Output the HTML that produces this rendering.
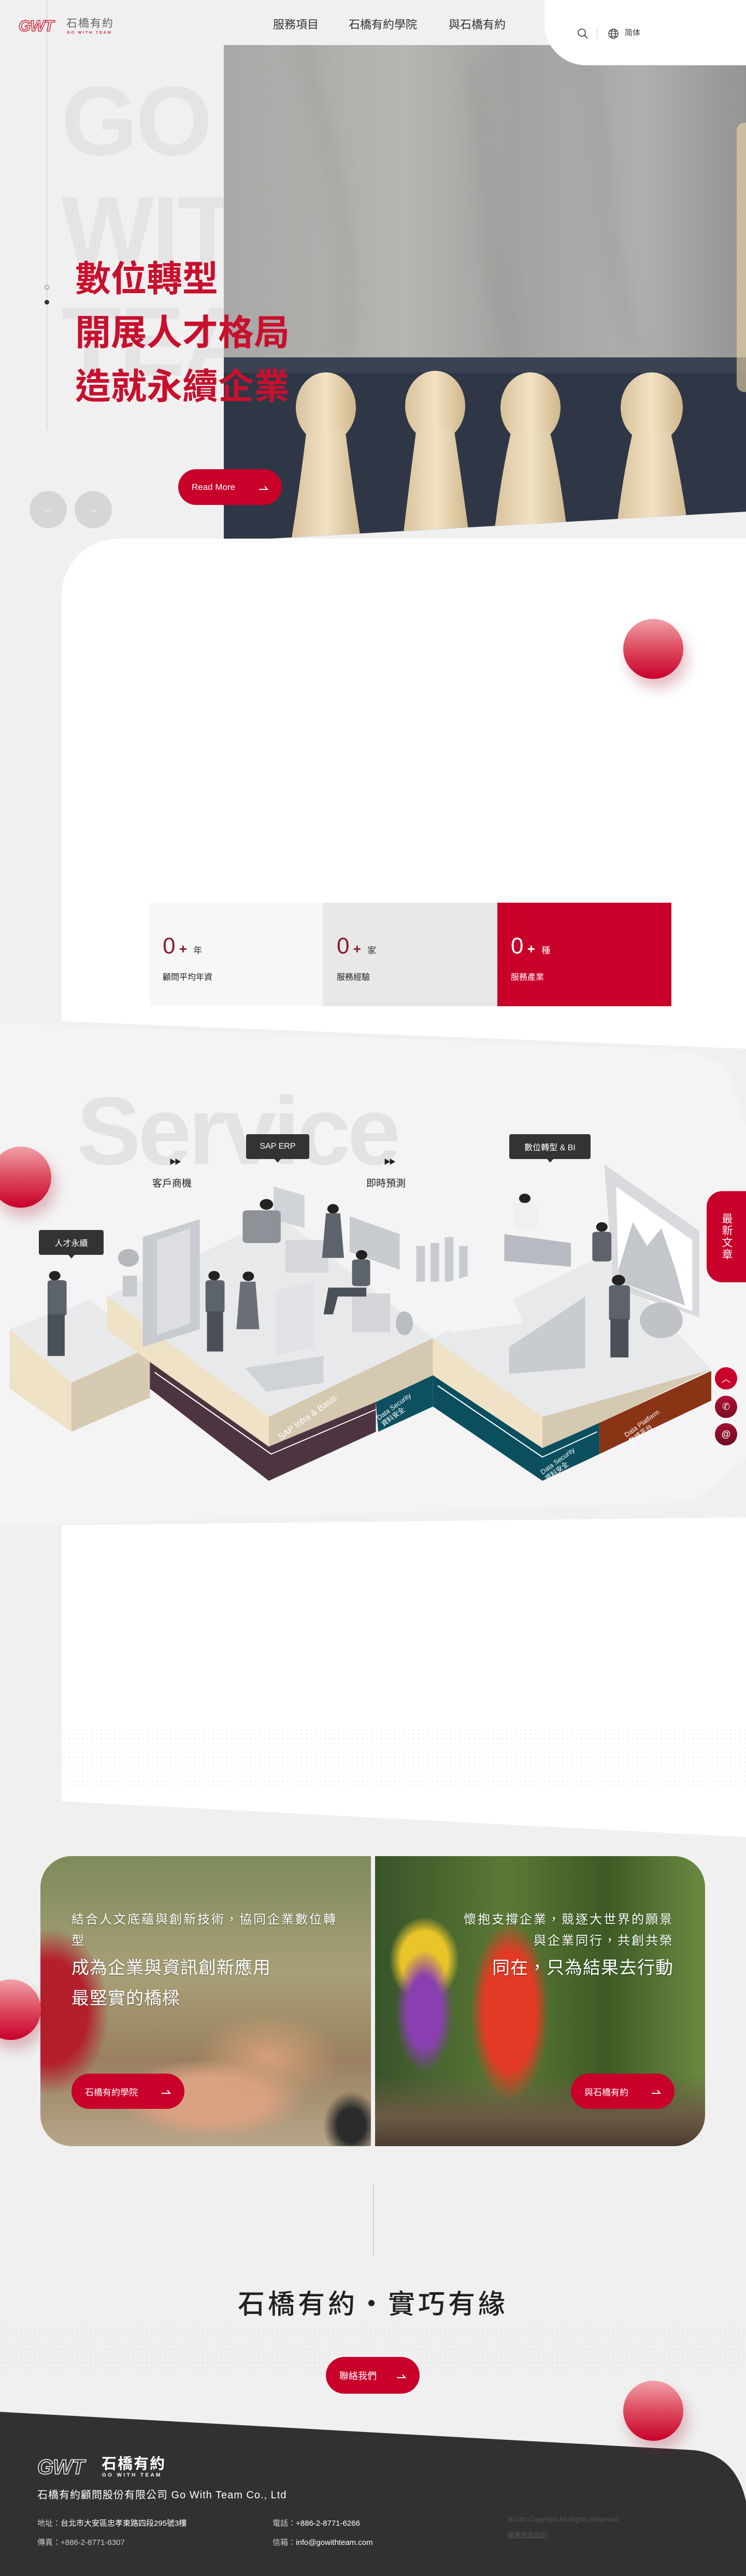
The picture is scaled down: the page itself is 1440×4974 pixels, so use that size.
<!DOCTYPE html>
<html lang="zh-Hant"><head><meta charset="utf-8">
<style>
*{margin:0;padding:0;box-sizing:border-box}
html,body{width:1440px;height:4974px;overflow:hidden}
body{position:relative;background:#f0f0f0;font-family:"Liberation Sans","Noto Sans CJK TC",sans-serif;color:#333}
.a{position:absolute}
.btn{position:absolute;background:#c8002a;color:#fff;border-radius:36px;font-size:17px;display:flex;align-items:center;padding-left:26px}
.btn svg{position:absolute;right:26px;top:50%;margin-top:-6px}
.lbl{position:absolute;background:#333;color:#fff;font-size:16px;border-radius:4px;display:flex;align-items:center;justify-content:center;height:48px}
.lbl:after{content:"";position:absolute;left:50%;bottom:-7px;margin-left:-6px;border:6px solid transparent;border-bottom:0;border-top:7px solid #333}
.ball{position:absolute;border-radius:50%;background:linear-gradient(#f2a0a8,#dc4a5e 50%,#c8002a);box-shadow:8px 18px 26px rgba(160,20,40,.28)}
.dots{position:absolute;background-image:radial-gradient(circle,#e2e2e2 1.6px,transparent 2px);background-size:9px 9px;opacity:.8}
</style></head><body>

<div class="a" style="left:90px;top:0;width:1px;height:830px;background:#c8c8c8"></div>
<div class="a" style="left:86px;top:550px;width:9px;height:9px;border:1px solid #777;border-radius:50%"></div>
<div class="a" style="left:86px;top:579px;width:9px;height:9px;background:#333;border-radius:50%"></div>
<div class="a" style="left:118px;top:128px;font:bold 190px/213px 'Liberation Sans',sans-serif;color:#e4e4e4;letter-spacing:-4px">GO<br>WITH<br>TEAM</div>

<div class="a" style="left:432px;top:87px;width:1008px;height:958px;clip-path:polygon(0 0,100% 0,100% 901px,0 100%);overflow:hidden">
<svg width="1008" height="958" viewBox="0 0 1008 958">
<defs>
<linearGradient id="sh" x1="0" y1="0" x2="1" y2="0"><stop offset="0" stop-color="#a8a8a6"/><stop offset=".35" stop-color="#b5b5b2"/><stop offset=".55" stop-color="#a2a2a0"/><stop offset=".8" stop-color="#afafad"/><stop offset="1" stop-color="#949492"/></linearGradient>
<radialGradient id="gl" cx="1" cy=".5" r=".5"><stop offset="0" stop-color="#ffcf6a"/><stop offset=".4" stop-color="#e8a050" stop-opacity=".7"/><stop offset="1" stop-color="#e8a050" stop-opacity="0"/></radialGradient>
<linearGradient id="pw" x1="0" y1="0" x2="1" y2="0"><stop offset="0" stop-color="#d9c29b"/><stop offset=".5" stop-color="#f1e2c3"/><stop offset="1" stop-color="#cfb68c"/></linearGradient>
<filter id="bl"><feGaussianBlur stdDeviation="18"/></filter>
</defs>
<rect width="1008" height="958" fill="url(#sh)"/>
<path d="M150 0 C200 200 260 400 230 600 M480 40 C520 200 500 420 560 600 M700 0 C740 200 720 400 800 600" stroke="#8a8a88" stroke-width="24" fill="none" opacity=".3" filter="url(#bl)"/>
<rect x="0" y="603" width="1008" height="355" fill="#2f3747"/>
<rect x="0" y="603" width="1008" height="30" fill="#3b4252"/>
<ellipse cx="1008" cy="420" rx="140" ry="330" fill="url(#gl)"/>
<rect x="990" y="150" width="30" height="520" rx="15" fill="#f1d7a6" opacity=".6"/>
<g fill="url(#pw)">
<ellipse cx="197" cy="700" rx="58" ry="68"/><path d="M160 740 Q150 830 130 958 L265 958 Q245 830 234 740Z"/>
<ellipse cx="408" cy="697" rx="58" ry="68"/><path d="M372 740 Q360 830 345 958 L475 958 Q458 830 444 740Z"/>
<ellipse cx="592" cy="700" rx="58" ry="68"/><path d="M555 745 Q535 830 520 958 L665 958 Q650 830 629 745Z"/>
<ellipse cx="826" cy="700" rx="60" ry="68"/><path d="M790 745 Q770 830 755 958 L900 958 Q882 830 862 745Z"/>
</g>
</svg></div>

<div class="a" style="left:1051px;top:0;width:389px;height:126px;background:#fff;border-bottom-left-radius:80px"></div>
<div class="a" style="left:36px;top:34px;font:bold 30px/34px 'Liberation Sans',sans-serif;color:transparent;-webkit-text-stroke:1.5px #d0213a;letter-spacing:-1px;font-style:italic">GWT</div>
<div class="a" style="left:128px;top:35px;font-size:21px;line-height:22px;color:#666;letter-spacing:2px">石橋有約</div>
<div class="a" style="left:129px;top:59px;font:bold 7.5px/8px 'Liberation Sans',sans-serif;color:#d0213a;letter-spacing:2.6px">GO WITH TEAM</div>
<div class="a" style="left:527px;top:34px;font-size:22px;line-height:28px;color:#333">服務項目</div>
<div class="a" style="left:673px;top:34px;font-size:22px;line-height:28px;color:#333">石橋有約學院</div>
<div class="a" style="left:866px;top:34px;font-size:22px;line-height:28px;color:#333">與石橋有約</div>
<svg class="a" style="left:1114px;top:54px" width="22" height="22" viewBox="0 0 22 22"><circle cx="9" cy="9" r="7" fill="none" stroke="#333" stroke-width="1.6"/><line x1="14" y1="14" x2="20" y2="20" stroke="#333" stroke-width="1.6"/></svg>
<div class="a" style="left:1152px;top:52px;width:1px;height:24px;background:#ccc"></div>
<svg class="a" style="left:1173px;top:54px" width="22" height="22" viewBox="0 0 22 22" fill="none" stroke="#333" stroke-width="1.3"><circle cx="11" cy="11" r="9"/><ellipse cx="11" cy="11" rx="4" ry="9"/><line x1="2" y1="11" x2="20" y2="11"/><line x1="4" y1="6" x2="18" y2="6"/><line x1="4" y1="16" x2="18" y2="16"/></svg>
<div class="a" style="left:1206px;top:55px;font-size:15px;line-height:18px;color:#333">简体</div>

<div class="a" style="left:145px;top:487px;font-size:69px;line-height:104px;font-weight:bold;color:#c8102e;white-space:nowrap">數位轉型<br>開展人才格局<br>造就永續企業</div>
<div class="btn" style="left:344px;top:906px;width:200px;height:69px">Read More<svg width="18" height="12" viewBox="0 0 18 12"><path d="M0 10 H16 L11 4" fill="none" stroke="#fff" stroke-width="2"/></svg></div>
<div class="a" style="left:57px;top:948px;width:72px;height:72px;border-radius:50%;background:#d6d6d6;color:#f4f4f4;font-size:20px;display:flex;align-items:center;justify-content:center">←</div>
<div class="a" style="left:144px;top:948px;width:72px;height:72px;border-radius:50%;background:#d6d6d6;color:#f4f4f4;font-size:20px;display:flex;align-items:center;justify-content:center">→</div>

<div class="a" style="left:119px;top:1040px;width:1321px;height:990px;background:#fff;border-top-left-radius:110px;clip-path:polygon(0 0,100% 0,100% 985px,0 932px)"></div>
<div class="a" style="left:0;top:1975px;width:1440px;height:975px;background:#f4f4f4;clip-path:polygon(0 0,1320px 52px,1400px 80px,1440px 200px,1440px 840px,1340px 925px,119px 968px,0 968px)"></div>
<div class="ball" style="left:1203px;top:1195px;width:116px;height:116px"></div>

<div class="a" style="left:288px;top:1743px;width:335px;height:200px;background:#f7f7f7"></div>
<div class="a" style="left:623px;top:1743px;width:337px;height:200px;background:#e8e8e8"></div>
<div class="a" style="left:960px;top:1743px;width:336px;height:200px;background:#c8002a"></div>
<div class="a" style="left:314px;top:1802px;color:#8b1a2b;font-size:44px;line-height:50px;white-space:nowrap">0<span style="font-size:26px;font-weight:bold"> +</span> <span style="font-size:17px;color:#333">年</span></div>
<div class="a" style="left:314px;top:1873px;font-size:16px;color:#222">顧問平均年資</div>
<div class="a" style="left:650px;top:1802px;color:#8b1a2b;font-size:44px;line-height:50px;white-space:nowrap">0<span style="font-size:26px;font-weight:bold"> +</span> <span style="font-size:17px;color:#333">家</span></div>
<div class="a" style="left:650px;top:1873px;font-size:16px;color:#222">服務經驗</div>
<div class="a" style="left:986px;top:1802px;color:#fff;font-size:44px;line-height:50px;white-space:nowrap">0<span style="font-size:26px;font-weight:bold"> +</span> <span style="font-size:17px">種</span></div>
<div class="a" style="left:986px;top:1873px;font-size:16px;color:#fff">服務產業</div>

<div class="a" style="left:148px;top:2085px;font:bold 186px/200px 'Liberation Sans',sans-serif;color:#e3e3e3;letter-spacing:-6px">Service</div>
<div class="ball" style="left:-19px;top:2214px;width:118px;height:118px"></div>

<svg class="a" style="left:0;top:2050px" width="1440" height="900" viewBox="0 0 1568 1568" preserveAspectRatio="none">
<polygon points="20,900 190,800 315,960 150,1080" fill="#e9eaec"/>
<polygon points="20,900 150,1080 150,1245 20,1100" fill="#efe2c6"/>
<polygon points="150,1080 315,960 315,1130 150,1245" fill="#d6cab2"/>
<polygon points="225,790 590,520 910,930 565,1195" fill="#e8e9eb"/>
<polygon points="225,790 565,1195 565,1295 315,1010 225,900" fill="#efe2c6"/>
<polygon points="565,1195 910,930 910,1055 790,1145 565,1295" fill="#d5c9b1"/>
<polygon points="315,1010 565,1295 790,1145 790,1245 565,1410 315,1100" fill="#4d3441"/>
<polyline points="325,1045 570,1320 790,1170" fill="none" stroke="#fff" stroke-width="3"/>
<polygon points="790,1145 910,1055 910,1160 795,1245" fill="#0d5060"/>
<polygon points="910,930 1270,650 1495,1035 1140,1195" fill="#e8e9eb"/>
<polygon points="910,930 1140,1195 1140,1300 910,1055" fill="#efe2c6"/>
<polygon points="1140,1195 1495,1035 1260,1215 1140,1300" fill="#d5c9b1"/>
<polygon points="910,1055 1140,1300 1260,1215 1260,1320 1140,1410 910,1160" fill="#0b4f5f"/>
<polyline points="920,1090 1140,1330 1255,1245" fill="none" stroke="#fff" stroke-width="3"/>
<polygon points="1260,1215 1495,1040 1495,1140 1260,1320" fill="#8a3416"/>
<g fill="#c8cbd0">
<polygon points="300,590 420,530 420,900 300,960"/><polygon points="330,600 400,560 400,880 330,920" fill="#dcdee2"/>
<polygon points="735,520 840,580 840,700 735,640"/>
<polygon points="575,420 640,450 640,560 575,530" fill="#d0d3d8"/>
<rect x="600" y="600" width="90" height="110" fill="#d5d7db"/>
<polygon points="580,770 660,740 660,960 580,990" fill="#e1e3e6"/>
<polygon points="515,1030 680,990 680,1080 560,1110" fill="#cfd2d6"/>
<rect x="740" y="780" width="80" height="130" fill="#d3d5d9"/>
<polygon points="1270,345 1470,570 1470,860 1290,760" fill="#d8dadd"/>
<polygon points="1295,420 1455,600 1455,840 1300,740" fill="#fff"/>
<polygon points="1300,700 1330,540 1360,620 1390,560 1420,700 1440,820 1300,740" fill="#c3c6cb"/>
<rect x="875" y="620" width="18" height="120"/><rect x="905" y="610" width="18" height="130"/><rect x="935" y="590" width="18" height="150"/><rect x="965" y="620" width="18" height="120"/>
<polygon points="880,770 1050,690 1100,880 950,910" fill="#f3f4f5"/>
<polygon points="1070,960 1230,790 1230,1030 1070,1050"/>
<polygon points="1060,580 1200,610 1200,690 1060,670" fill="#b7bbc1"/>
<ellipse cx="1390" cy="870" rx="45" ry="60" fill="#bfc2c7"/>
<ellipse cx="270" cy="660" rx="22" ry="30" fill="#b5b9be"/><rect x="258" y="720" width="30" height="70" fill="#c6c9ce"/>
<ellipse cx="850" cy="880" rx="18" ry="40" fill="#b9bdc2"/>
</g>
<g fill="#5d636b">
<ellipse cx="115" cy="720" rx="12" ry="16" fill="#222"/><rect x="100" y="735" width="40" height="120" rx="8"/><rect x="100" y="850" width="36" height="140" fill="#4a5058"/>
<ellipse cx="450" cy="720" rx="12" ry="16" fill="#222"/><rect x="432" y="735" width="40" height="110" rx="8"/><rect x="435" y="840" width="34" height="135" fill="#4a5058"/>
<ellipse cx="522" cy="722" rx="12" ry="16" fill="#222"/><path d="M505 740 h32 l8 160 h-48z" fill="#6b7078"/>
<ellipse cx="700" cy="495" rx="12" ry="16" fill="#222"/><path d="M685 510 h30 l8 150 h-46z"/>
<ellipse cx="760" cy="650" rx="12" ry="16" fill="#222"/><rect x="740" y="665" width="38" height="90" rx="8"/><path d="M690 760 h80 v30 h-60 l-10 60 h-20z" fill="#4a5058"/>
<ellipse cx="560" cy="480" rx="14" ry="18" fill="#222"/><rect x="510" y="500" width="80" height="110" rx="10" fill="#8e9298"/>
<ellipse cx="1103" cy="460" rx="12" ry="16" fill="#222"/><rect x="1080" y="475" width="50" height="90" rx="8" fill="#f0f0f0"/>
<ellipse cx="1265" cy="556" rx="12" ry="16" fill="#222"/><rect x="1245" y="572" width="40" height="100" rx="8"/>
<ellipse cx="1300" cy="735" rx="14" ry="18" fill="#222"/><rect x="1280" y="752" width="44" height="120" rx="8"/><rect x="1283" y="865" width="38" height="130" fill="#4a5058"/>
</g>
</svg>

<div class="lbl" style="left:475px;top:2190px;width:122px">SAP ERP</div>
<div class="lbl" style="left:983px;top:2190px;width:157px">數位轉型 &amp; BI</div>
<div class="lbl" style="left:75px;top:2375px;width:125px">人才永續</div>
<div class="a" style="left:327px;top:2233px;font-size:13px;color:#222;letter-spacing:-3px">▶▶</div>
<div class="a" style="left:741px;top:2233px;font-size:13px;color:#222;letter-spacing:-3px">▶▶</div>
<div class="a" style="left:294px;top:2270px;font-size:19px;color:#222">客戶商機</div>
<div class="a" style="left:707px;top:2270px;font-size:19px;color:#222">即時預測</div>
<div class="a" style="left:545px;top:2765px;font-size:17px;color:#fff;transform:rotate(-36deg);transform-origin:left bottom;white-space:nowrap">SAP Infra &amp; Basis</div>
<div class="a" style="left:742px;top:2727px;font-size:13px;line-height:15px;color:#fff;transform:rotate(-36deg);transform-origin:left bottom;white-space:nowrap">Data Security<br>資料安全</div>
<div class="a" style="left:1058px;top:2832px;font-size:13px;line-height:15px;color:#fff;transform:rotate(-36deg);transform-origin:left bottom;white-space:nowrap">Data Security<br>資料安全</div>
<div class="a" style="left:1220px;top:2760px;font-size:13px;line-height:15px;color:#fff;transform:rotate(-36deg);transform-origin:left bottom;white-space:nowrap">Data Platform<br>數據平台</div>

<div class="a" style="left:1364px;top:2300px;width:76px;height:176px;background:#c8002a;border-radius:30px 0 0 30px;color:#fff;font-size:21px;line-height:22px;writing-mode:vertical-rl;display:flex;align-items:center;justify-content:center;letter-spacing:2px">最新文章</div>
<div class="a" style="left:1380px;top:2640px;width:43px;height:43px;border-radius:50%;background:#c8002a;color:#fff;font-size:18px;text-align:center;line-height:46px">︿</div>
<div class="a" style="left:1380px;top:2695px;width:43px;height:43px;border-radius:50%;background:linear-gradient(#b01030,#7a0e28);color:#fff;font-size:18px;text-align:center;line-height:43px">✆</div>
<div class="a" style="left:1380px;top:2748px;width:43px;height:43px;border-radius:50%;background:linear-gradient(#a01030,#6e0c26);color:#fff;font-size:18px;font-weight:bold;text-align:center;line-height:43px">@</div>

<div class="a" style="left:119px;top:2930px;width:1321px;height:620px;background:#fff;border-bottom-left-radius:80px;clip-path:polygon(0 15px,1321px 0,1321px 617px,0 548px)"></div>
<div class="dots" style="left:119px;top:3335px;width:1321px;height:115px;opacity:.35"></div>

<div class="a" style="left:78px;top:3584px;width:638px;height:560px;border-radius:60px 0 0 60px;overflow:hidden;background:
radial-gradient(ellipse 140px 90px at 440px 390px,#d6a07a,transparent),
radial-gradient(ellipse 260px 110px at 330px 470px,#d9a282 40%,transparent 70%),
radial-gradient(ellipse 140px 200px at 20px 300px,#b3202b 50%,transparent 80%),
radial-gradient(ellipse 90px 110px at 600px 520px,#2b2b2b 30%,transparent 60%),
linear-gradient(#7d8a5a,#a8a077 40%,#9a8060 70%,#b7a58a)"></div>
<div class="a" style="left:724px;top:3584px;width:637px;height:560px;border-radius:0 60px 60px 0;overflow:hidden;background:
radial-gradient(ellipse 80px 170px at 95px 300px,#8a3fb0 40%,transparent 70%),
radial-gradient(ellipse 90px 110px at 95px 200px,#e9c52a 50%,transparent 75%),
radial-gradient(ellipse 100px 230px at 260px 300px,#e23a24 50%,transparent 75%),
linear-gradient(transparent 75%,#6b5a44 90%,#4c3e30),
linear-gradient(90deg,#37532a,#5b7a35 40%,#3d5a25 70%,#6b8a40)"></div>
<div class="a" style="left:138px;top:3686px;font-size:24px;line-height:41px;letter-spacing:3px;color:#fff;text-shadow:0 1px 3px rgba(0,0,0,.4)">結合人文底蘊與創新技術，協同企業數位轉<br>型</div>
<div class="a" style="left:138px;top:3771px;font-size:34px;line-height:59px;letter-spacing:1px;color:#fff;text-shadow:0 1px 3px rgba(0,0,0,.4)">成為企業與資訊創新應用<br>最堅實的橋樑</div>
<div class="btn" style="left:138px;top:4004px;width:218px;height:68px;font-size:17px">石橋有約學院<svg width="18" height="12" viewBox="0 0 18 12"><path d="M0 10 H16 L11 4" fill="none" stroke="#fff" stroke-width="2"/></svg></div>
<div class="a" style="left:800px;width:500px;top:3686px;text-align:right;font-size:24px;line-height:41px;letter-spacing:3px;color:#fff;text-shadow:0 1px 3px rgba(0,0,0,.4)">懷抱支撐企業，競逐大世界的願景<br>與企業同行，共創共榮</div>
<div class="a" style="left:800px;width:500px;top:3771px;text-align:right;font-size:34px;line-height:59px;letter-spacing:1px;color:#fff;text-shadow:0 1px 3px rgba(0,0,0,.4)">同在，只為結果去行動</div>
<div class="btn" style="left:1102px;top:4004px;width:200px;height:68px;font-size:17px">與石橋有約<svg width="18" height="12" viewBox="0 0 18 12"><path d="M0 10 H16 L11 4" fill="none" stroke="#fff" stroke-width="2"/></svg></div>
<div class="ball" style="left:-38px;top:3822px;width:117px;height:117px"></div>

<div class="a" style="left:720px;top:4217px;width:1px;height:141px;background:#bbb"></div>
<div class="a" style="left:0;width:1440px;top:4418px;text-align:center;font-size:52px;line-height:64px;letter-spacing:6px;color:#222;font-weight:500">石橋有約・實巧有緣</div>
<div class="dots" style="left:0;top:4486px;width:1440px;height:100px;opacity:.55"></div>
<div class="btn" style="left:629px;top:4551px;width:181px;height:71px;font-size:18px">聯絡我們<svg width="18" height="12" viewBox="0 0 18 12"><path d="M0 10 H16 L11 4" fill="none" stroke="#fff" stroke-width="2"/></svg></div>

<svg class="a" style="left:0;top:4650px" width="1440" height="324" viewBox="0 0 1440 324"><path d="M0 7 L1340 81 Q1420 90 1440 180 L1440 324 L0 324Z" fill="#323132"/></svg>
<div class="ball" style="left:1203px;top:4597px;width:116px;height:116px"></div>
<div class="a" style="left:72px;top:4742px;font:bold 40px/44px 'Liberation Sans',sans-serif;color:transparent;-webkit-text-stroke:1.5px #fff;font-style:italic;letter-spacing:-1px">GWT</div>
<div class="a" style="left:196px;top:4743px;font-size:29px;line-height:30px;color:#fff;letter-spacing:2px;font-weight:bold">石橋有約</div>
<div class="a" style="left:197px;top:4775px;font:bold 10px/10px 'Liberation Sans',sans-serif;color:#fff;letter-spacing:3.4px">GO WITH TEAM</div>
<div class="a" style="left:72px;top:4806px;font-size:20px;line-height:24px;color:#fff;letter-spacing:1px">石橋有約顧問股份有限公司 Go With Team Co., Ltd</div>
<div class="a" style="left:72px;top:4861px;font-size:15px;color:#ccc">地址：<span style="color:#fff">台北市大安區忠孝東路四段295號3樓</span></div>
<div class="a" style="left:72px;top:4898px;font-size:15px;color:#ccc">傳真：+886-2-8771-6307</div>
<div class="a" style="left:526px;top:4861px;font-size:15px;color:#ccc">電話：<span style="color:#fff">+886-2-8771-6266</span></div>
<div class="a" style="left:526px;top:4898px;font-size:15px;color:#ccc">信箱：<span style="color:#fff">info@gowithteam.com</span></div>
<div class="a" style="left:979px;top:4857px;font-size:13px;color:#555">2024© Copyright All Rights Reserved</div>
<div class="a" style="left:979px;top:4884px;font-size:13px;color:#555;text-decoration:underline">蘋果網頁設計</div>
</body></html>
